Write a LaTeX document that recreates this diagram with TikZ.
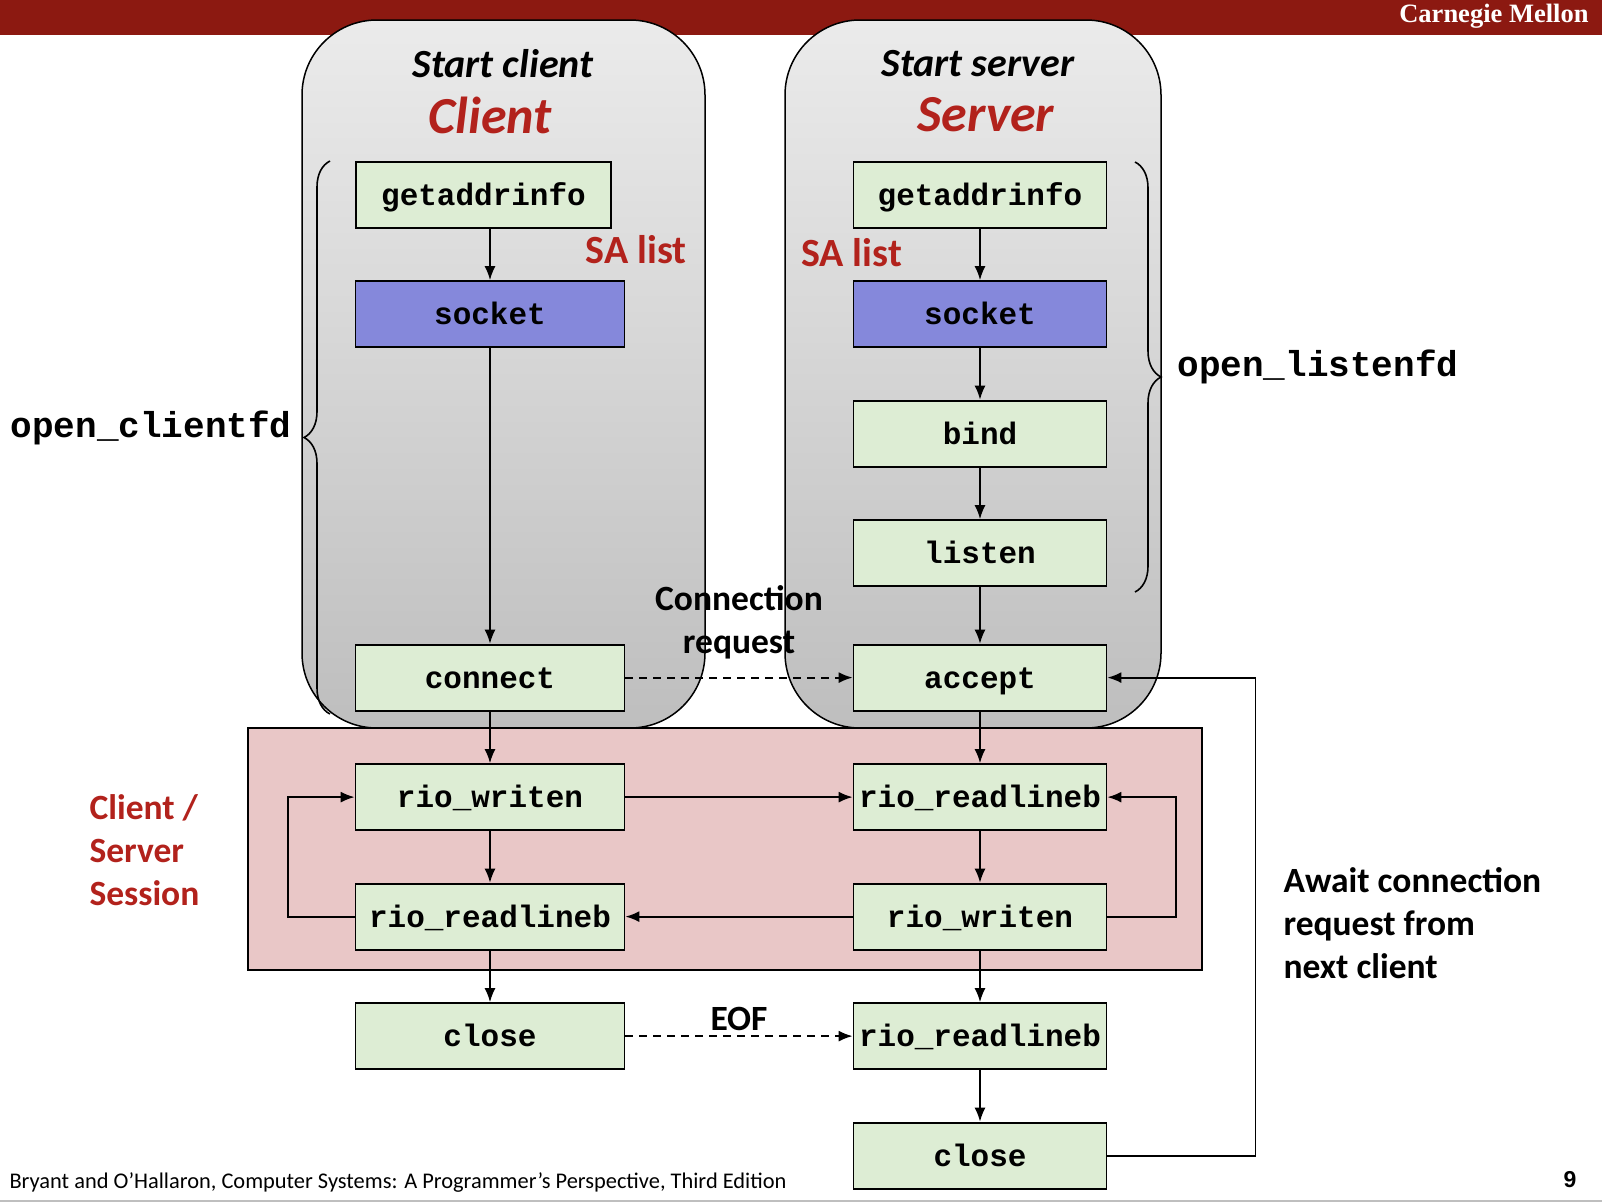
\documentclass[tikz,border=0pt]{standalone}
\usepackage{fontspec}
\setmainfont{Carlito}
\newfontfamily\codefont{Liberation Mono}
\newfontfamily\logofont{Liberation Serif}
\newfontfamily\pagefont{Liberation Sans}
\usetikzlibrary{arrows.meta, positioning, decorations.pathreplacing}

\definecolor{cmured}{RGB}{140,25,17}
\definecolor{titlered}{RGB}{178,34,28}
\definecolor{fngreen}{RGB}{221,237,212}
\definecolor{sockblue}{RGB}{133,136,219}
\definecolor{sessionpink}{RGB}{233,199,199}
\definecolor{graytop}{RGB}{235,235,235}
\definecolor{graybot}{RGB}{190,190,190}

\begin{document}
\begin{tikzpicture}[x=1pt, y=-1pt, node distance=119.5pt,
    fn/.style={rectangle, draw, line width=1.8pt, fill=fngreen, minimum width=253pt, minimum height=66pt, inner sep=0pt, text height=23pt, text depth=1.6pt, font=\codefont\bfseries\fontsize{31}{31}\selectfont},
    wide/.style={minimum width=269pt},
    sock/.style={fill=sockblue},
    note/.style={font=\bfseries\fontsize{35.5}{43}\selectfont, align=left},
    rednote/.style={note, text=titlered},
    bigcode/.style={font=\codefont\bfseries\fontsize{36}{36}\selectfont},
    arrow/.style={line width=1.8pt, ->, >={Latex[length=14pt, width=11pt]}},
    dasharrow/.style={arrow, dash pattern=on 8pt off 6pt},
    brace/.style={decorate, decoration={brace, amplitude=26pt, aspect=0.5}, line width=1.6pt}]

    \useasboundingbox (0,0) rectangle (1602,1202);

    % header bar and background panels
    \fill[cmured] (0,0) rectangle (1602,35);
    \node[anchor=east, text=white, font=\logofont\bfseries\fontsize{26.5}{26.5}\selectfont] (cmu) at (1592,16) {Carnegie Mellon};
    \draw[line width=1.5pt, rounded corners=75pt, top color=graytop, bottom color=graybot] (302,20) rectangle (705,728);
    \draw[line width=1.5pt, rounded corners=75pt, top color=graytop, bottom color=graybot] (785,20) rectangle (1161,728);
    \draw[line width=1.8pt, fill=sessionpink] (248,728) rectangle (1202,970);

    \node[font=\bfseries\itshape\fontsize{40}{40}\selectfont] (cstart) at (503,64) {Start client};
    \node[font=\bfseries\itshape\fontsize{52}{52}\selectfont, text=titlered] (ctitle) at (490,115) {Client};
    \node[font=\bfseries\itshape\fontsize{40}{40}\selectfont] (sstart) at (978,64) {Start server};
    \node[font=\bfseries\itshape\fontsize{52}{52}\selectfont, text=titlered] (stitle) at (986,115) {Server};

    % server side
    \node[fn] (sgai) at (980,194.6) {getaddrinfo};
    \node[fn, sock, below of=sgai] (ssock) {socket};
    \node[fn, below of=ssock] (sbind) {bind};
    \node[fn, below of=sbind] (slisten) {listen};
    \node[fn, below of=slisten, node distance=124.5pt] (saccept) {accept};
    \node[fn, below of=saccept] (sread) {rio\_readlineb};
    \node[fn, below of=sread] (swrite) {rio\_writen};
    \node[fn, below of=swrite] (seof) {rio\_readlineb};
    \node[fn, below of=seof] (sclose) {close};

    % client side
    \node[fn, left of=sgai, node distance=496.5pt, minimum width=255pt] (cgai) {getaddrinfo};
    \node[fn, wide, sock, left of=ssock, node distance=490pt] (csock) {socket};
    \node[fn, wide, left of=saccept, node distance=490pt] (cconn) {connect};
    \node[fn, wide, left of=sread, node distance=490pt] (cwrite) {rio\_writen};
    \node[fn, wide, left of=swrite, node distance=490pt] (cread) {rio\_readlineb};
    \node[fn, wide, left of=seof, node distance=490pt] (cclose) {close};

    \node[rednote, font=\bfseries\fontsize{40}{40}\selectfont] (csa) at (636,250) {SA list};
    \node[rednote, font=\bfseries\fontsize{40}{40}\selectfont] (ssa) at (851.5,253) {SA list};

    % braces
    \draw[brace] (330,714) -- (330,161);
    \draw[brace] (1135,162) -- (1135,592);
    \node[bigcode, anchor=east] (copen) at (295,428) {open\_clientfd};
    \node[bigcode, anchor=west] (sopen) at (1174,367) {open\_listenfd};

    % side notes
    \node[rednote, anchor=west] (session) at (86,850) {Client /\\Server\\Session};
    \node[note, anchor=west] (await) at (1280,923) {Await connection\\request from\\next client};

    % client flow
    \draw[arrow] (cgai.south -| csock) -- (csock);
    \draw[arrow] (csock) -- (cconn);
    \draw[arrow] (cconn) -- (cwrite);
    \draw[arrow] (cwrite) -- (cread);
    \draw[arrow] (cread) -- (cclose);
    \draw[arrow] (cread.west) -- ++(-67,0) |- (cwrite.west);

    % server flow
    \draw[arrow] (sgai) -- (ssock);
    \draw[arrow] (ssock) -- (sbind);
    \draw[arrow] (sbind) -- (slisten);
    \draw[arrow] (slisten) -- (saccept);
    \draw[arrow] (saccept) -- (sread);
    \draw[arrow] (sread) -- (swrite);
    \draw[arrow] (swrite) -- (seof);
    \draw[arrow] (seof) -- (sclose);
    \draw[arrow] (swrite.east) -- ++(68.5,0) |- (sread.east);
    \draw[arrow] (sclose.east) -- ++(148,0) |- (saccept.east);

    % between client and server
    \draw[dasharrow] (cconn) -- node[note, align=center, above=14pt] (conreq) {Connection\\request} (saccept);
    \draw[arrow] (cwrite) -- (sread);
    \draw[arrow] (swrite) -- (cread);
    \draw[dasharrow] (cclose) -- node[note, above=1pt] (eof) {EOF} (seof);

    % footer
    \node[anchor=west, font=\fontsize{22.4}{22.4}\selectfont] (cite) at (6,1183) {Bryant and O’Hallaron, Computer Systems: A Programmer’s Perspective, Third Edition};
    \node[font=\pagefont\bfseries\fontsize{23}{23}\selectfont] (pnum) at (1570,1180) {9};
    \draw[black!25, line width=2pt] (0,1201) -- (1602,1201);
\end{tikzpicture}
\end{document}
